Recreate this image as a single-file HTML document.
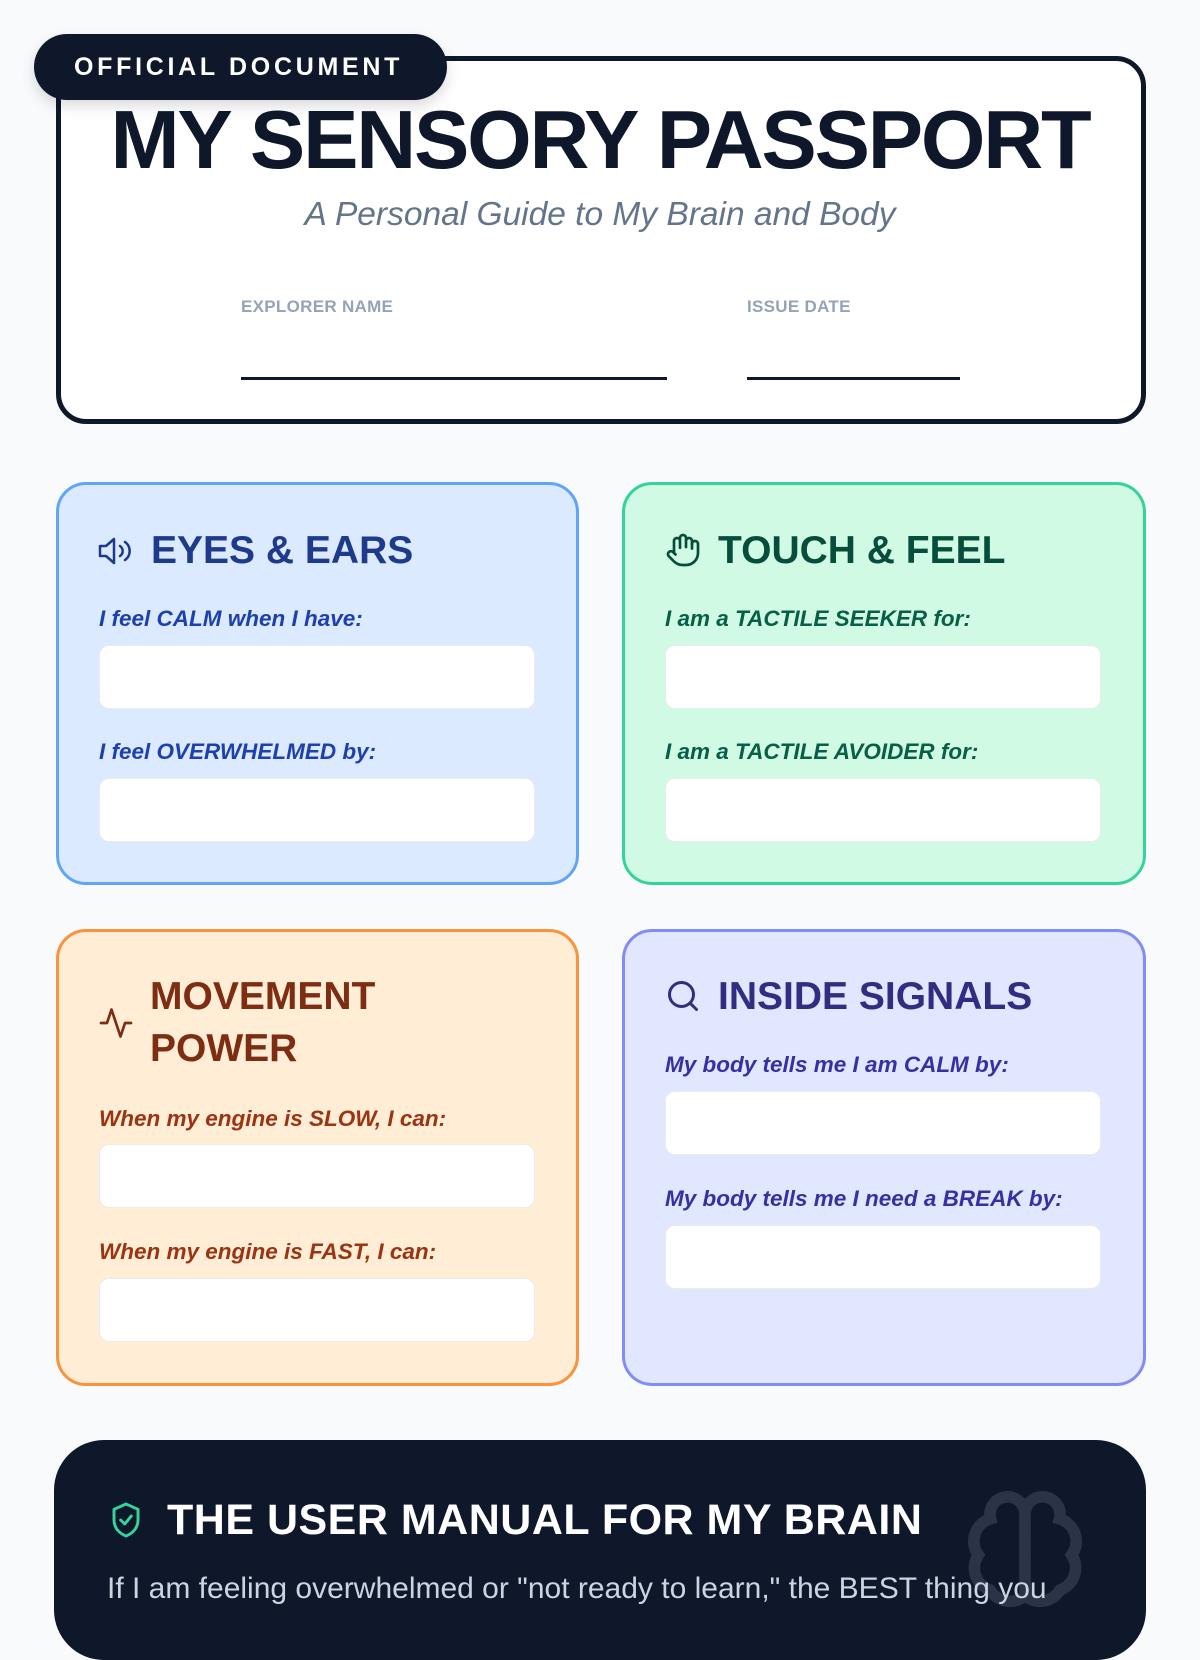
<!DOCTYPE html>
<html><head><meta charset="utf-8"><style>
*{box-sizing:border-box;margin:0;padding:0}
body{width:1200px;height:1600px;overflow:hidden;background:#f8fafc;font-family:"Liberation Sans",sans-serif;position:relative}
.a{position:absolute}
.hdr{left:56px;top:56px;width:1090px;height:368px;border:5px solid #0f172a;border-radius:30px;background:#fff}
.badge{left:34px;top:34px;width:413px;height:66px;border-radius:33px;background:#0f172a;color:#fff;font-weight:bold;font-size:25px;letter-spacing:3.7px;line-height:66px;padding-left:40px;box-shadow:0 6px 14px rgba(0,0,0,.15)}
.title{left:0;width:1200px;top:90px;text-align:center;font-weight:900;font-size:83px;letter-spacing:-2.2px;color:#0f172a;line-height:100px}
.sub{left:0;width:1200px;top:196px;text-align:center;font-style:italic;font-size:33.5px;color:#64748b}
.lab{font-size:17px;color:#94a3b8;font-weight:bold;letter-spacing:.3px}
.line{height:3px;background:#0f172a}
.card{border:3px solid;border-radius:30px}
.ct{font-weight:bold;font-size:39px;line-height:52px}
.lbl{font-style:italic;font-weight:bold;font-size:22.5px}
.box{background:#fff;border-radius:10px;border:1px solid rgba(0,0,0,.08);height:64px;width:436px}
.dark{left:54px;top:1440px;width:1092px;height:220px;background:#0f172a;border-radius:50px}
</style></head><body>
<div class="a hdr"></div>
<div class="a badge">OFFICIAL DOCUMENT</div>
<div class="a title">MY SENSORY PASSPORT</div>
<div class="a sub">A Personal Guide to My Brain and Body</div>
<div class="a lab" style="left:241px;top:297px">EXPLORER NAME</div>
<div class="a line" style="left:241px;top:377px;width:426px"></div>
<div class="a lab" style="left:747px;top:297px">ISSUE DATE</div>
<div class="a line" style="left:747px;top:377px;width:213px"></div>

<div class="a card" style="left:56px;top:482px;width:523px;height:403px;background:#dbeafe;border-color:#60a5fa"></div>
<svg class="a" style="left:98px;top:535px" width="38" height="32" viewBox="0 0 38 32" fill="none" stroke="#1e3a8a" stroke-width="2.5" stroke-linejoin="round" stroke-linecap="round"><path d="M2 11h6l8-7v24l-8-7H2z"/><path d="M22 11a6 6 0 0 1 0 10M27 7a11 11 0 0 1 0 18"/></svg>
<div class="a ct" style="left:151px;top:525px;color:#1e3a8a">EYES &amp; EARS</div>
<div class="a lbl" style="left:99px;top:606px;color:#1e40af">I feel CALM when I have:</div>
<div class="a box" style="left:99px;top:645px"></div>
<div class="a lbl" style="left:99px;top:739px;color:#1e40af">I feel OVERWHELMED by:</div>
<div class="a box" style="left:99px;top:778px"></div>

<div class="a card" style="left:622px;top:482px;width:524px;height:403px;background:#d1fae5;border-color:#34d399"></div>
<svg class="a" style="left:665px;top:532px" width="36" height="36" viewBox="0 0 24 24" fill="none" stroke="#064e3b" stroke-width="1.8" stroke-linecap="round" stroke-linejoin="round"><path d="M18 11V6a2 2 0 0 0-4 0M14 10V4a2 2 0 0 0-4 0v2M10 10.5V6a2 2 0 0 0-4 0v8"/><path d="M18 8a2 2 0 1 1 4 0v6a8 8 0 0 1-8 8h-2c-2.8 0-4.5-.9-6-2.4l-3.6-3.6a2 2 0 0 1 2.8-2.8L7 15"/></svg>
<div class="a ct" style="left:718px;top:525px;color:#064e3b">TOUCH &amp; FEEL</div>
<div class="a lbl" style="left:665px;top:606px;color:#065f46">I am a TACTILE SEEKER for:</div>
<div class="a box" style="left:665px;top:645px"></div>
<div class="a lbl" style="left:665px;top:739px;color:#065f46">I am a TACTILE AVOIDER for:</div>
<div class="a box" style="left:665px;top:778px"></div>

<div class="a card" style="left:56px;top:929px;width:523px;height:457px;background:#ffedd5;border-color:#fb923c"></div>
<svg class="a" style="left:98px;top:1005px" width="36" height="36" viewBox="0 0 24 24" fill="none" stroke="#7c2d12" stroke-width="1.8" stroke-linecap="round" stroke-linejoin="round"><path d="M22 12h-4l-3 9L9 3l-3 9H2"/></svg>
<div class="a ct" style="left:150px;top:971px;color:#7c2d12">MOVEMENT<br>POWER</div>
<div class="a lbl" style="left:99px;top:1106px;color:#9a3412">When my engine is SLOW, I can:</div>
<div class="a box" style="left:99px;top:1144px"></div>
<div class="a lbl" style="left:99px;top:1239px;color:#9a3412">When my engine is FAST, I can:</div>
<div class="a box" style="left:99px;top:1278px"></div>

<div class="a card" style="left:622px;top:929px;width:524px;height:457px;background:#e0e7ff;border-color:#818cf8"></div>
<svg class="a" style="left:665px;top:978px" width="36" height="36" viewBox="0 0 24 24" fill="none" stroke="#312e81" stroke-width="2" stroke-linecap="round"><circle cx="11" cy="11" r="8"/><path d="M21 21l-4.3-4.3"/></svg>
<div class="a ct" style="left:718px;top:971px;color:#312e81">INSIDE SIGNALS</div>
<div class="a lbl" style="left:665px;top:1052px;color:#3730a3">My body tells me I am CALM by:</div>
<div class="a box" style="left:665px;top:1091px"></div>
<div class="a lbl" style="left:665px;top:1186px;color:#3730a3">My body tells me I need a BREAK by:</div>
<div class="a box" style="left:665px;top:1225px"></div>

<div class="a dark"></div>
<svg class="a" style="left:950px;top:1485px" width="150" height="140" viewBox="0 0 24 24" fill="none" stroke="#2a3446" stroke-width="2" stroke-linecap="round"><path d="M12 5a3 3 0 1 0-5.9.8A4 4 0 0 0 4 12a4 4 0 0 0 2 6 4 4 0 0 0 6 1V5zM12 5a3 3 0 1 1 5.9.8A4 4 0 0 1 20 12a4 4 0 0 1-2 6 4 4 0 0 1-6 1"/></svg>
<svg class="a" style="left:110px;top:1501px" width="32" height="38" viewBox="0 0 24 28" fill="none" stroke="#34d399" stroke-width="2.2" stroke-linecap="round" stroke-linejoin="round"><path d="M12 2l9 4v8c0 6-4 10-9 12-5-2-9-6-9-12V6z"/><path d="M8 14l3 3 5-6"/></svg>
<div class="a" style="left:167px;top:1494px;color:#fff;font-weight:bold;font-size:43px;line-height:52px;letter-spacing:.5px">THE USER MANUAL FOR MY BRAIN</div>
<div class="a" style="left:107px;top:1572px;color:#cbd5e1;font-size:30px;white-space:nowrap">If I am feeling overwhelmed or "not ready to learn," the BEST thing you</div>
</body></html>
